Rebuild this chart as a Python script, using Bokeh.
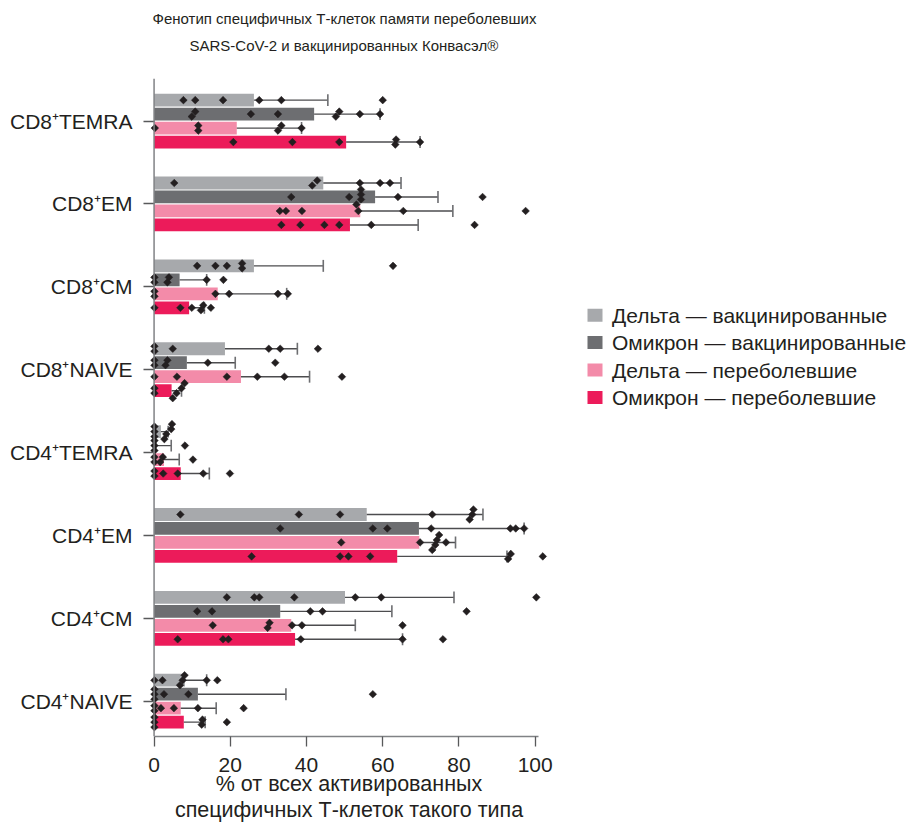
from bokeh.plotting import figure
from bokeh.layouts import row
from bokeh.models import FixedTicker, Title, ColumnDataSource, Range1d, Span
from bokeh.core.properties import value
from bokeh.embed import file_html
from bokeh.resources import INLINE

# ---------------- data ----------------
categories = ["CD8⁺TEMRA", "CD8⁺EM", "CD8⁺CM", "CD8⁺NAIVE",
              "CD4⁺TEMRA", "CD4⁺EM", "CD4⁺CM", "CD4⁺NAIVE"]

series_names = ["Дельта — вакцинированные", "Омикрон — вакцинированные",
                "Дельта — переболевшие", "Омикрон — переболевшие"]

delta_vac_mean = [26.2, 44.4, 26.2, 18.6, 1.8, 55.8, 50.1, 8.1]
delta_vac_upper = [45.6, 64.8, 44.4, 37.6, 3.7, 86.3, 78.7, 13.8]
omicron_vac_mean = [42.0, 58.0, 6.7, 8.6, 0.7, 69.5, 33.1, 11.5]
omicron_vac_upper = [59.3, 74.5, 13.8, 21.3, 4.5, 97.1, 62.4, 34.6]
delta_inf_mean = [21.7, 54.1, 16.7, 22.8, 2.6, 69.6, 36.0, 7.0]
delta_inf_upper = [38.7, 78.4, 34.8, 40.8, 6.6, 79.1, 52.8, 16.3]
omicron_inf_mean = [50.4, 51.4, 9.2, 4.6, 7.0, 63.8, 37.0, 7.8]
omicron_inf_upper = [69.8, 69.3, 13.2, 7.2, 14.5, 92.6, 65.2, 13.4]

delta_vac_points = [
    [7.7, 10.8, 18.1, 27.6, 33.4, 60.0],
    [5.3, 41.5, 42.8, 54.0, 59.3, 61.9],
    [11.3, 16.1, 19.1, 23.1, 23.1, 62.7],
    [0.1, 0.1, 4.9, 30.1, 33.1, 43.0],
    [0.1, 0.1, 0.1, 2.7, 3.2, 4.5, 4.7],
    [6.9, 38.0, 48.8, 73.0, 82.8, 83.5, 83.8],
    [19.1, 26.3, 27.6, 36.8, 52.8, 59.6, 100.3],
    [0.1, 2.2, 6.8, 7.5, 8.0, 13.8, 16.6],
]
omicron_vac_points = [
    [9.9, 10.8, 25.4, 32.5, 47.7, 48.6, 54.0, 59.3],
    [36.0, 51.2, 53.1, 54.3, 54.3, 54.3, 64.0, 86.2],
    [0.1, 0.1, 3.5, 3.9, 13.8, 18.2],
    [0.1, 0.1, 3.0, 3.5, 14.1, 31.8],
    [0.1, 0.1, 0.1, 8.1],
    [33.1, 57.4, 61.2, 72.7, 93.5, 94.9, 97.1],
    [11.3, 15.2, 41.0, 44.2, 82.0],
    [0.1, 0.1, 0.1, 2.6, 9.0, 57.4],
]
delta_inf_points = [
    [0.2, 11.6, 11.6, 32.5, 33.4, 38.7],
    [33.0, 34.6, 38.8, 53.6, 65.4, 97.5],
    [0.1, 0.1, 16.1, 19.7, 32.5, 35.1],
    [0.1, 6.0, 19.1, 27.1, 34.2, 49.3],
    [0.1, 0.1, 1.6, 2.3, 10.2],
    [49.1, 69.8, 73.0, 73.8, 74.2, 74.8, 76.6],
    [15.4, 29.8, 30.3, 36.2, 38.8, 65.2],
    [0.1, 0.1, 1.8, 5.2, 11.5, 23.5],
]
omicron_inf_points = [
    [20.8, 36.3, 48.6, 63.3, 63.5, 69.8],
    [33.4, 38.4, 44.7, 48.6, 57.0, 84.1],
    [0.1, 6.9, 9.9, 12.3, 12.9, 14.9],
    [0.1, 0.1, 4.9, 5.9, 7.2, 8.0],
    [0.1, 0.1, 2.4, 6.2, 12.9, 19.9],
    [25.6, 48.8, 51.0, 56.7, 92.9, 93.6, 102.0],
    [6.2, 18.1, 19.5, 38.5, 65.2, 75.8],
    [0.1, 0.1, 0.1, 12.5, 12.7, 19.1],
]

x_ticks = [0, 20, 40, 60, 80, 100]

# ---------------- style ----------------
colors = ["#A7A9AC", "#6D6E71", "#F38BA9", "#EC1B5A"]
TXT = "#231F20"
FONT = "Liberation Sans"
PX_PER_UNIT_Y = 83.0

n = len(categories)
centers = [n - 1 - i for i in range(n)]  # top category highest
pitch = 14.0 / PX_PER_UNIT_Y
bar_h = 12.8 / PX_PER_UNIT_Y
offsets = [1.5 * pitch, 0.5 * pitch, -0.5 * pitch, -1.5 * pitch]

W_MAIN = 568
H = 825
FRAME_TOP = 78
FRAME_BOTTOM = 737
p = figure(width=W_MAIN, height=H, output_backend="svg", toolbar_location=None,
           x_range=Range1d(-1.2, 103.5), y_range=Range1d(-0.426, 7.514),
           min_border_left=149, min_border_right=20, min_border_top=FRAME_TOP,
           min_border_bottom=H - FRAME_BOTTOM)
p.outline_line_color = None
p.grid.visible = False
p.background_fill_color = "white"

means = [delta_vac_mean, omicron_vac_mean, delta_inf_mean, omicron_inf_mean]
uppers = [delta_vac_upper, omicron_vac_upper, delta_inf_upper, omicron_inf_upper]
points = [delta_vac_points, omicron_vac_points, delta_inf_points, omicron_inf_points]

# y axis line at x = 0
p.add_layout(Span(location=0, dimension="height", line_color="#808285", line_width=1.5))

for s in range(4):
    ys = [c + offsets[s] for c in centers]
    p.hbar(y=ys, left=0, right=means[s], height=bar_h,
           fill_color=colors[s], line_color=None)

for s in range(4):
    ys = [c + offsets[s] for c in centers]
    src = ColumnDataSource(dict(y=ys, right=means[s], upper=uppers[s],
                                y0=[y - 0.072 for y in ys], y1=[y + 0.072 for y in ys]))
    p.segment(x0="right", x1="upper", y0="y", y1="y", source=src,
              line_color="#4D4D4F", line_width=1.4)
    p.segment(x0="upper", x1="upper", y0="y0", y1="y1", source=src,
              line_color="#6D6E71", line_width=1.6)

# points with small vertical spreading for overlapping values
px_unit = 1.0 / PX_PER_UNIT_Y
for s in range(4):
    xs, ys = [], []
    for g in range(n):
        vals = sorted(points[s][g])
        yc = centers[g] + offsets[s]
        clusters = []
        for v in vals:
            if clusters and v - clusters[-1][-1] < 1.3:
                clusters[-1].append(v)
            else:
                clusters.append([v])
        for cl in clusters:
            k = len(cl)
            for j, v in enumerate(cl):
                xs.append(v)
                ys.append(yc + (j - (k - 1) / 2.0) * 5.0 * px_unit)
    p.scatter(x=xs, y=ys, marker="square", angle=45, angle_units="deg",
              size=5.4, fill_color=TXT, line_color=TXT, line_width=0.5)

# ---------------- axes ----------------
ya = p.yaxis[0]
ya.ticker = FixedTicker(ticks=centers)
ya.major_label_overrides = {c: categories[i] for i, c in enumerate(centers)}
ya.axis_line_color = None
ya.major_tick_line_color = "#58595B"
ya.major_tick_line_width = 1.3
ya.major_tick_out = 6
ya.major_tick_in = 5
ya.minor_tick_line_color = None
ya.major_label_standoff = 11
ya.major_label_text_font = FONT
ya.major_label_text_font_size = "21px"
ya.major_label_text_color = TXT

xa = p.xaxis[0]
xa.ticker = FixedTicker(ticks=x_ticks)
xa.bounds = (0, 101)
xa.axis_line_color = "#808285"
xa.axis_line_width = 1.5
xa.major_tick_line_color = "#58595B"
xa.major_tick_line_width = 1.3
xa.major_tick_out = 10
xa.major_tick_in = 0
xa.minor_tick_line_color = None
xa.major_label_standoff = 11
xa.major_label_text_font = FONT
xa.major_label_text_font_size = "21px"
xa.major_label_text_color = TXT
xa.axis_label = "% от всех активированных\nспецифичных Т-клеток такого типа"
xa.axis_label_text_font = FONT
xa.axis_label_text_font_size = "21.5px"
xa.axis_label_text_font_style = "normal"
xa.axis_label_text_color = TXT
xa.axis_label_standoff = -3
xa.axis_label_text_line_height = 1.12

# ---------------- titles ----------------
title_lines = ["Фенотип специфичных Т-клеток памяти переболевших",
               "SARS-CoV-2 и вакцинированных Конвасэл®"]
spacer = Title(text=" ", text_font=FONT, text_font_size="15px", standoff=5)
t2 = Title(text=title_lines[1], align="left", offset=40,
           text_font=FONT, text_font_size="15px",
           text_font_style="normal", text_color=TXT, standoff=2)
t1 = Title(text=title_lines[0], align="left", offset=3,
           text_font=FONT, text_font_size="15px",
           text_font_style="normal", text_color=TXT, standoff=14)
p.add_layout(spacer, "above")
p.add_layout(t2, "above")
p.add_layout(t1, "above")

# ---------------- legend (separate panel, page-pixel coordinates) ----------------
W_LEG = 917 - W_MAIN
leg = figure(width=W_LEG, height=H, output_backend="svg", toolbar_location=None,
             x_range=Range1d(0, W_LEG), y_range=Range1d(FRAME_BOTTOM, FRAME_TOP),
             x_axis_location=None, y_axis_location=None,
             min_border_left=0, min_border_right=0, min_border_top=FRAME_TOP,
             min_border_bottom=H - FRAME_BOTTOM)
leg.outline_line_color = None
leg.grid.visible = False
row_y = [315 + 27.5 * i for i in range(len(series_names))]
leg.rect(x=[19 + 7.5] * 4, y=row_y, width=15, height=13,
         fill_color=colors, line_color=None)
leg.text(x=[43.5] * 4, y=row_y, text=series_names, text_baseline="middle",
         text_align="left", text_font=value(FONT), text_font_size=value("21px"),
         text_color=TXT)

layout = row(p, leg)
open("out.html", "w").write(file_html(layout, INLINE))
